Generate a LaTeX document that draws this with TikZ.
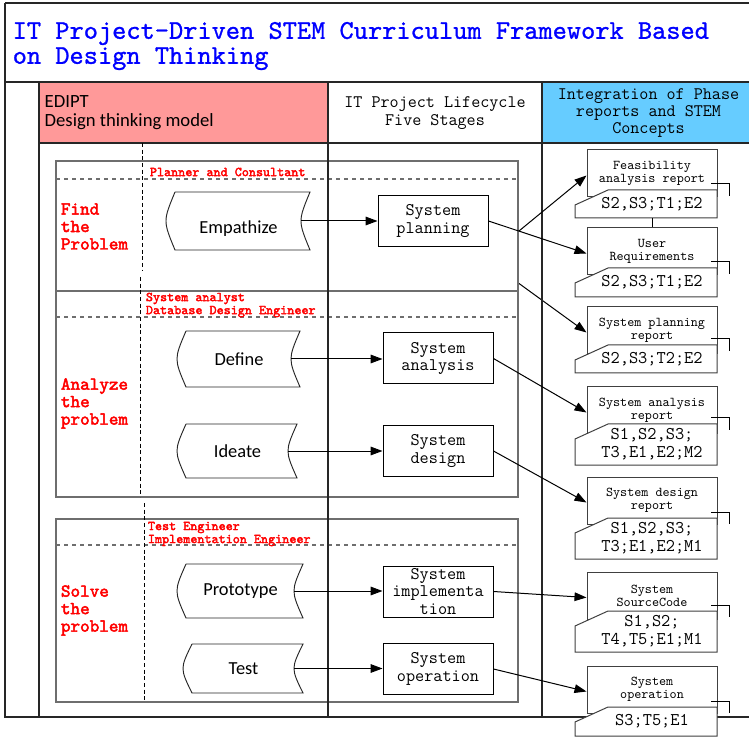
\documentclass[tikz,border=0pt]{standalone}
\usepackage{fontspec}
\usepackage{tikz}
\usetikzlibrary{arrows.meta, calc, backgrounds}
\newfontfamily\calfont{Carlito}
\newfontfamily\rolefont{lmmono10-regular.otf}[FakeBold=2.5]
\newfontfamily\headfont{lmmono10-regular.otf}[FakeBold=1]
\definecolor{edipink}{HTML}{FF9999}
\definecolor{phaseblue}{HTML}{66CCFF}
\definecolor{titleblue}{HTML}{0000FF}
\definecolor{rolered}{HTML}{FF0000}
\definecolor{boxgray}{HTML}{6E6E6E}

\tikzset{
  tableline/.style={line width=1.1pt, black!85},
  stagebox/.style={draw=boxgray, line width=0.9pt, fill=white},
  sepline/.style={draw=boxgray, line width=0.8pt, dashed},
  laneline/.style={black, line width=0.6pt, densely dashed},
  dtline/.style={black!85, line width=0.7pt, fill=white},
  dttext/.style={font=\calfont\fontsize{13.8}{16}\selectfont},
  phase/.style={draw, line width=0.75pt, fill=white, minimum width=82.5pt, minimum height=38.25pt, align=center, inner sep=0.5pt, font=\ttfamily\fontsize{13.3}{13.2}\selectfont},
  rtitle/.style={draw=black!75, line width=0.75pt, fill=white, minimum width=97.5pt, minimum height=35.25pt, align=center, inner sep=1pt, font=\ttfamily\fontsize{10.1}{9.75}\selectfont},
  rcard/.style={draw=black!75, line width=0.75pt, fill=white},
  rcode/.style={minimum width=97.5pt, inner sep=0pt, align=center, font=\ttfamily\fontsize{13.4}{13.5}\selectfont},
  stagelbl/.style={rolered, anchor=west, align=left, inner sep=2pt, font=\rolefont\fontsize{13.7}{13.1}\selectfont},
  rolelbl/.style={rolered, anchor=west, align=left, inner sep=2pt, font=\rolefont\fontsize{10.1}{9.75}\selectfont},
  arr/.style={-{Triangle[length=9pt,width=6.5pt]}, line width=0.75pt},
}

% design thinking step: [text y offset]{name}{left}{right}{top}{bottom}{text}
\newcommand\dtstep[7][0]{%
  \draw[dtline] (#3,#5) -- (#4,#5) .. controls (#4-12,{(#5+#6)/2}) .. (#4,#6)
    -- (#3,#6) .. controls (#3-12,{(#5+#6)/2}) .. (#3,#5);
  \coordinate (#2-out) at (#4-9,{(#5+#6)/2});
  \node[dttext] (#2) at ({(#3+#4)/2-4},{(#5+#6)/2+#1}) {#7};
}

% phase report: {name}{top}{card top}{card bottom}{title}{codes}
\newcommand\reportbox[6]{%
  \node[rtitle] (#1) at (652,#2+23.5) {#5};
  \coordinate (#1-in) at ($(#1.west)+(0,2)$);
  \draw[line width=0.75pt] (711,#3-6) -- (729,#3-6) -- (729,#3+6);
  \filldraw[rcard] (608,#3) -- (717,#3) -- (717,#4) -- (575,#4) -- (575,#3+15) -- cycle;
  \node[rcode, minimum height={(#4-#3)*0.75pt}] (#1-c) at (652,{(#3+#4)/2}) {#6};
}

\begin{document}
\begin{tikzpicture}[x=0.75pt, y=-0.75pt]
  \useasboundingbox (0,0) rectangle (749,737);

  % header cells
  \fill[edipink] (39,82) rectangle (328,143);
  \fill[phaseblue] (542,82) rectangle (749,143);

  % stage frames
  \draw[stagebox] (56,161) rectangle (518,291);
  \draw[sepline] (56,179) -- (518,179);
  \draw[stagebox] (56,291) rectangle (518,497);
  \draw[sepline] (56,317) -- (518,317);
  \draw[stagebox] (56,519) rectangle (518,702);
  \draw[sepline] (56,545) -- (518,545);

  % table lines
  \draw[tableline] (5,3) -- (749,3);
  \draw[tableline] (5,82) -- (749,82);
  \draw[tableline] (39,143) -- (749,143);
  \draw[tableline] (5,3) -- (5,717) -- (749,717);
  \foreach \x in {39,328,542}
    \draw[tableline] (\x,82) -- (\x,717);

  % role lanes
  \draw[laneline] (142,143) -- (142,270);
  \draw[laneline] (140,277) -- (140,497);
  \draw[laneline] (144,503) -- (144,702);

  \node[anchor=west, align=left, titleblue, font=\headfont\fontsize{20.3}{18.75}\selectfont] (title) at (8,46) {IT Project-Driven STEM Curriculum Framework Based\\on Design Thinking};

  \node[anchor=west, align=left, font=\calfont\fontsize{14}{14.3}\selectfont] (edipt) at (40,112.5) {EDIPT\\Design thinking model};
  \node[align=center, font=\ttfamily\fontsize{13.2}{13.5}\selectfont] (lifecycle) at (435,113) {IT Project Lifecycle\\Five Stages};
  \node[align=center, font=\ttfamily\fontsize{13.2}{12.75}\selectfont] (integ) at (648.5,113) {Integration of Phase\\reports and STEM\\Concepts};

  \node[stagelbl] (find) at (58,226.5) {Find\\the\\Problem};
  \node[stagelbl] (analyze) at (58,403.5) {Analyze\\the\\problem};
  \node[stagelbl] (solve) at (58,610.5) {Solve\\the\\problem};

  \node[rolelbl] (planner) at (147,172) {Planner and Consultant};
  \node[rolelbl] (analyst) at (143,305) {System analyst\\Database Design Engineer};
  \node[rolelbl] (tester) at (145,534) {Test Engineer\\Implementation Engineer};

  % EDIPT steps
  \dtstep[8]{emp}{175}{310}{192}{250}{Empathize}
  \dtstep{def}{186}{300}{331}{387}{Define}
  \dtstep{ide}{186}{297}{424}{478}{Ideate}
  \dtstep{pro}{186}{303}{564}{618}{Prototype}
  \dtstep{tst}{192}{303}{644}{693}{Test}

  % lifecycle stages
  \node[phase] (splan) at (433,221) {System\\planning};
  \node[phase] (sana) at (438,358.5) {System\\analysis};
  \node[phase] (sdes) at (438,451) {System\\design};
  \node[phase] (simp) at (438,591.5) {System\\implementa\\tion};
  \node[phase] (sope) at (438,669) {System\\operation};

  \foreach \a/\b in {emp/splan, def/sana, ide/sdes, pro/simp, tst/sope}
    \draw[arr] (\a-out) -- (\a-out -| \b.west);

  % reports
  \reportbox{feas}{150}{190}{218}{Feasibility\\analysis report}{S2,S3;T1;E2}
  \reportbox{ureq}{228}{268}{297}{User\\Requirements}{S2,S3;T1;E2}
  \reportbox{plrep}{307}{345}{373}{System planning\\report}{S2,S3;T2;E2}
  \reportbox{anrep}{387}{424}{465}{System analysis\\report}{S1,S2,S3;\\T3,E1,E2;M2}
  \reportbox{dsrep}{477}{518}{559}{System design\\report}{S1,S2,S3;\\T3;E1,E2;M1}
  \reportbox{srccode}{572}{611}{652}{System\\SourceCode}{S1,S2;\\T4,T5;E1;M1}
  \reportbox{oprep}{666}{707}{736}{System\\operation}{S3;T5;E1}

  \draw[line width=0.75pt] (feas-c.south) -- (ureq.north);
  \draw[arr] (splan.east) -- (ureq-in);
  \coordinate (fork) at ($(splan.east)!0.31!(ureq-in)$);
  \draw[arr] (fork) -- (feas-in);
  \begin{scope}[on background layer]
    \draw[arr] (splan) -- (plrep-in);
  \end{scope}
  \draw[arr] (sana.east) -- (anrep-in);
  \draw[arr] (sdes.east) -- (dsrep-in);
  \draw[arr] (simp.east) -- (srccode-in);
  \draw[arr] (sope.east) -- (oprep-in);
\end{tikzpicture}
\end{document}
